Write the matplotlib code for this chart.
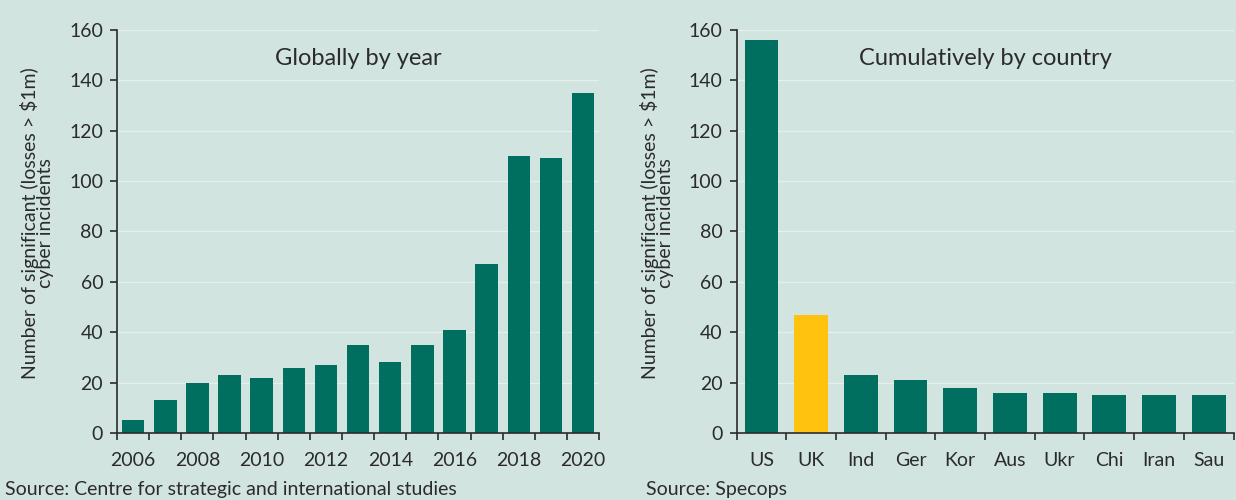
import matplotlib.pyplot as plt
import numpy as np

# Data
years = list(range(2006, 2021))
incidents_by_year = [5, 13, 20, 23, 22, 26, 27, 35, 28, 35, 41, 67, 110, 109, 135]

countries = ['US', 'UK', 'Ind', 'Ger', 'Kor', 'Aus', 'Ukr', 'Chi', 'Iran', 'Sau']
incidents_by_country = [156, 47, 23, 21, 18, 16, 16, 15, 15, 15]

bg = '#d2e4e0'
green = '#006f5f'
yellow = '#ffc20e'
text_col = '#2b2b2b'

plt.rcParams['font.family'] = ['Lato', 'DejaVu Sans']

fig = plt.figure(figsize=(12.36, 5), dpi=100, facecolor=bg)
ax1 = fig.add_axes([0.0947, 0.134, 0.39, 0.806])
ax2 = fig.add_axes([0.596, 0.134, 0.402, 0.806])

ylabel = 'Number of significant (losses > $1m)\ncyber incidents'


def style(ax, n):
    ax.set_facecolor(bg)
    ax.set_ylim(0, 160)
    ax.set_yticks(range(0, 161, 20))
    ax.set_xlim(-0.5, n - 0.5)
    ax.yaxis.grid(True, color='#eef5f3', linewidth=1.0, alpha=0.7)
    ax.set_axisbelow(True)
    for s in ['top', 'right']:
        ax.spines[s].set_visible(False)
    for s in ['left', 'bottom']:
        ax.spines[s].set_color(text_col)
        ax.spines[s].set_linewidth(1.2)
    ax.tick_params(axis='y', length=5, width=1.2, color=text_col,
                   labelsize=14, labelcolor=text_col, pad=5)
    ax.tick_params(axis='x', which='major', length=0, labelsize=14,
                   labelcolor=text_col, pad=14)
    ax.set_xticks(np.arange(-0.5, n, 1.0), minor=True)
    ax.tick_params(axis='x', which='minor', length=5, width=1.2,
                   color=text_col)
    ax.set_ylabel(ylabel, fontsize=14, color=text_col, linespacing=0.85)
    ax.yaxis.set_label_coords(-63 / (ax.get_position().width * 1236), 0.52)


# Left panel: globally by year
x1 = np.arange(len(years))
ax1.bar(x1, incidents_by_year, width=0.7, color=green)
style(ax1, len(years))
ax1.set_xticks(x1[::2])
ax1.set_xticklabels([str(y) for y in years[::2]])
ax1.text(0.5, 0.93, 'Globally by year', transform=ax1.transAxes,
         ha='center', va='center', fontsize=17, color=text_col)

# Right panel: cumulatively by country
x2 = np.arange(len(countries))
colors = [yellow if c == 'UK' else green for c in countries]
ax2.bar(x2, incidents_by_country, width=0.68, color=colors)
style(ax2, len(countries))
ax2.set_xticks(x2)
ax2.set_xticklabels(countries)
ax2.text(0.5, 0.93, 'Cumulatively by country', transform=ax2.transAxes,
         ha='center', va='center', fontsize=17, color=text_col)

fig.text(0.004, 0.01, 'Source: Centre for strategic and international studies',
         fontsize=14, color=text_col)
fig.text(0.523, 0.01, 'Source: Specops', fontsize=14, color=text_col)

fig.savefig('out.png', dpi=100, facecolor=bg)
